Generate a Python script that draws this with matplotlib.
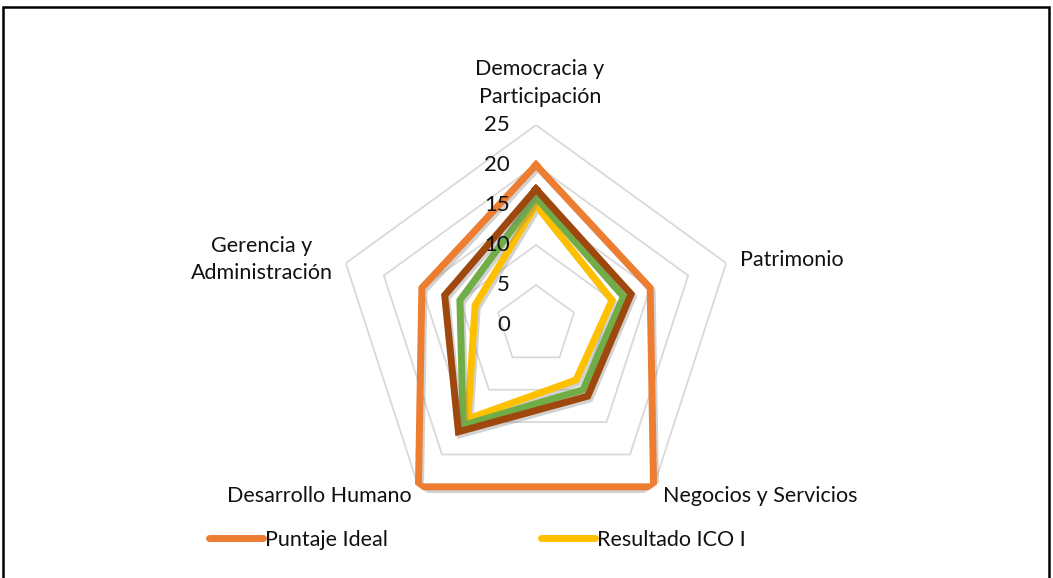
import numpy as np
import matplotlib
matplotlib.use('Agg')
import matplotlib.pyplot as plt
import matplotlib.patheffects as pe
from matplotlib.lines import Line2D
from matplotlib.patches import Rectangle

plt.rcParams['font.family'] = ['Lato', 'DejaVu Sans']

# data
categories = ['Democracia y\nParticipación', 'Patrimonio', 'Negocios y Servicios',
              'Desarrollo Humano', 'Gerencia y\nAdministración']
series_names = ['Puntaje Ideal', 'Resultado ICO I', 'Resultado ICO II', 'Resultado ICO III']
puntaje_ideal = [20, 15, 25, 25, 15]
ico_i = [15, 10, 8.5, 14.5, 8]
ico_ii = [16, 11.5, 10, 15.5, 10]
ico_iii = [17, 12.5, 11, 16.5, 12]
ticks = [0, 5, 10, 15, 20, 25]

colors = {'Puntaje Ideal': '#ED7D31', 'Resultado ICO I': '#FFC000',
          'Resultado ICO II': '#70AD47', 'Resultado ICO III': '#9E480E'}

W, H = 1053, 578
FS = 15.5
TXT = '#111111'
fig = plt.figure(figsize=(W / 100, H / 100), dpi=100)

# chart border
fig.patches.append(Rectangle((3 / W, -0.02), (1049 - 3) / W, 1 - 7 / H + 0.02,
                             transform=fig.transFigure, fill=False,
                             edgecolor='black', linewidth=1.8))

cx, cy, R = 536, H - 325, 200
ax = fig.add_axes([(cx - R) / W, (cy - R) / H, 2 * R / W, 2 * R / H], projection='polar')
ax.set_theta_zero_location('N')
ax.set_theta_direction(-1)
ax.set_ylim(0, 25)
ax.grid(False)
ax.spines['polar'].set_visible(False)
ax.set_xticks([])
ax.set_yticks([])
ax.patch.set_alpha(0)

n = len(categories)
theta = np.linspace(0, 2 * np.pi, n, endpoint=False)
theta_c = np.append(theta, theta[0])

# pentagon gridlines
for t in ticks[1:]:
    ax.plot(theta_c, [t] * (n + 1), color='#D9D9D9', lw=1.3, zorder=1)

shadow = [pe.SimpleLineShadow(offset=(1.5, -2), alpha=0.35, shadow_color='gray'), pe.Normal()]
plot_order = [('Puntaje Ideal', puntaje_ideal), ('Resultado ICO I', ico_i),
              ('Resultado ICO II', ico_ii), ('Resultado ICO III', ico_iii)]
for name, vals in plot_order:
    v = list(vals) + [vals[0]]
    ax.plot(theta_c, v, color=colors[name], lw=5, solid_joinstyle='miter',
            path_effects=shadow, zorder=3)

# value labels along top axis (drawn over the lines)
for t in ticks:
    ax.annotate(str(t), xy=(0, t), xytext=(-26, 0), textcoords='offset pixels',
                ha='right', va='center', fontsize=FS + 0.5, color=TXT,
                annotation_clip=False, zorder=6)

# category labels
offsets = [(4, 42, 'center', 'center'), (14, 3, 'left', 'center'),
           (9, -9, 'left', 'center'), (-7, -9, 'right', 'center'),
           (-13, 4, 'right', 'center')]
for th, lab, (dx, dy, ha, va) in zip(theta, categories, offsets):
    ax.annotate(lab, xy=(th, 25), xytext=(dx, dy), textcoords='offset pixels',
                ha=ha, va=va, multialignment='center', fontsize=FS,
                color=TXT, annotation_clip=False, linespacing=1.45, zorder=6)

handles = [Line2D([], [], color=colors['Puntaje Ideal'], lw=5, solid_capstyle='round'),
           Line2D([], [], color=colors['Resultado ICO I'], lw=5, solid_capstyle='round')]
fig.legend(handles, ['Puntaje Ideal', 'Resultado ICO I'], ncol=2, frameon=False,
           loc='center left', bbox_to_anchor=(198 / W, 1 - 540 / H),
           borderpad=0, handlelength=2.5, handletextpad=0.12, columnspacing=7.1,
           fontsize=FS, labelcolor=TXT)

fig.savefig('out.png', dpi=100)
